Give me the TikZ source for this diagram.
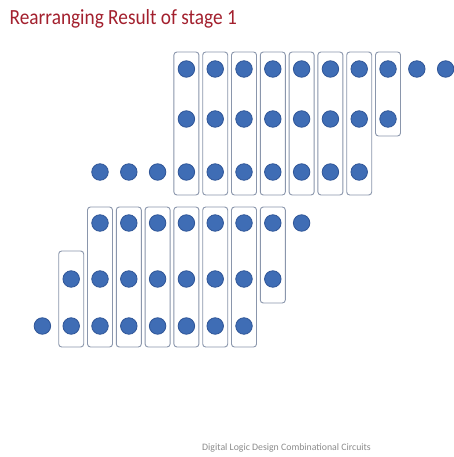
\documentclass[tikz,border=0pt]{standalone}
\usepackage{fontspec}
\setmainfont{Carlito}
\definecolor{titlered}{HTML}{A3202E}
\definecolor{dotblue}{HTML}{3F6DB5}
\definecolor{dotedge}{HTML}{2F5597}
\definecolor{boxedge}{HTML}{8A96AC}
\definecolor{footgray}{HTML}{8C8C8C}
\begin{document}
\begin{tikzpicture}[x=1pt,y=-1pt,
  dot/.style={circle,fill=dotblue,draw=dotedge,line width=0.8pt,minimum size=16.5pt,inner sep=0pt},
  colbox/.style={rectangle,rounded corners=3pt,draw=boxedge,line width=0.9pt,fill=white,minimum width=25pt,inner sep=0pt}]
\useasboundingbox[fill=white] (0,0) rectangle (453,457);
\node[anchor=west,text=titlered,font=\fontsize{19.3}{22}\selectfont,inner sep=0pt] (title) at (9.5,19) {\scalebox{1}[1.12]{Rearranging Result of stage 1}};
% top block boxes
\foreach \i in {5,...,11}{
  \node[colbox,minimum height=143pt] (tb\i) at ({42.4+28.8*\i},123.5) {};
}
\node[colbox,minimum height=84pt] (tb12) at ({42.4+28.8*12},94) {};
% top block dots
\foreach \i in {5,...,13,14}{ \node[dot] (t1-\i) at ({42.4+28.8*\i},69) {}; }
\foreach \i in {5,...,12}{ \node[dot] (t2-\i) at ({42.4+28.8*\i},119) {}; }
\foreach \i in {2,...,11}{ \node[dot] (t3-\i) at ({42.4+28.8*\i},172) {}; }
% bottom block boxes
\node[colbox,minimum height=96pt] (bb1) at ({42.4+28.8*1},299) {};
\foreach \i in {2,...,7}{
  \node[colbox,minimum height=140pt] (bb\i) at ({42.4+28.8*\i},277) {};
}
\node[colbox,minimum height=96pt] (bb8) at ({42.4+28.8*8},255) {};
% bottom block dots
\foreach \i in {2,...,9}{ \node[dot] (b1-\i) at ({42.4+28.8*\i},223) {}; }
\foreach \i in {1,...,8}{ \node[dot] (b2-\i) at ({42.4+28.8*\i},279) {}; }
\foreach \i in {0,...,7}{ \node[dot] (b3-\i) at ({42.4+28.8*\i},326) {}; }
% footer
\node[anchor=west,text=footgray,font=\fontsize{9.8}{11}\selectfont,inner sep=0pt] (footer) at (202,448) {Digital Logic Design Combinational Circuits};
\end{tikzpicture}
\end{document}
